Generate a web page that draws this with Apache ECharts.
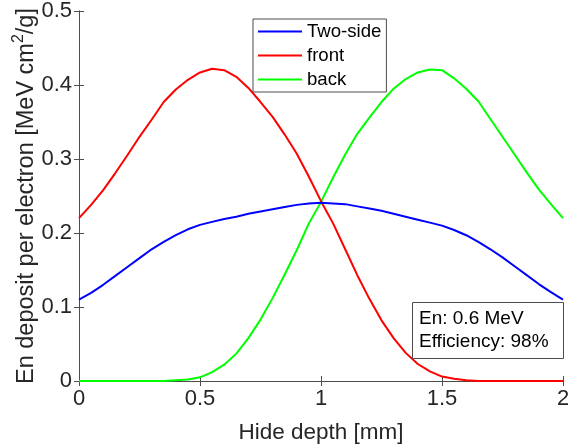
<!DOCTYPE html>
<html>
<head>
<meta charset="utf-8">
<script src="https://cdn.jsdelivr.net/npm/echarts@6/dist/echarts.min.js"></script>
<style>html,body{margin:0;padding:0;background:#fff;}#c{width:568px;height:447px;}</style>
</head>
<body>
<div id="c"></div>
<script>
var depth = [0,0.05,0.1,0.15,0.2,0.25,0.3,0.35,0.4,0.45,0.5,0.55,0.6,0.65,0.7,0.75,0.8,0.85,0.9,0.95,1.0,1.05,1.1,1.15,1.2,1.25,1.3,1.35,1.4,1.45,1.5,1.55,1.6,1.65,1.7,1.75,1.8,1.85,1.9,1.95,2.0];
var twoSide = [0.110,0.119,0.130,0.142,0.154,0.166,0.178,0.188,0.197,0.205,0.211,0.215,0.219,0.222,0.226,0.229,0.232,0.235,0.238,0.240,0.241,0.240,0.239,0.236,0.233,0.230,0.226,0.222,0.218,0.214,0.210,0.204,0.197,0.188,0.178,0.167,0.155,0.143,0.131,0.120,0.110];
var front = [0.220,0.238,0.258,0.281,0.305,0.330,0.353,0.377,0.394,0.407,0.417,0.422,0.420,0.411,0.396,0.377,0.357,0.333,0.307,0.276,0.243,0.213,0.178,0.143,0.111,0.082,0.058,0.038,0.023,0.013,0.006,0.003,0.001,0,0,0,0,0,0,0,0];
var back = [0,0,0,0,0,0,0,0,0.001,0.002,0.005,0.012,0.022,0.037,0.058,0.083,0.112,0.144,0.177,0.213,0.242,0.275,0.306,0.334,0.356,0.377,0.395,0.408,0.417,0.421,0.420,0.409,0.395,0.378,0.354,0.330,0.306,0.282,0.259,0.239,0.220];
var xTicks = [0,0.5,1,1.5,2];
var yTicks = [0,0.1,0.2,0.3,0.4,0.5];
var infoLines = ['En: 0.6 MeV','Efficiency: 98%'];

function pairs(ys){ return depth.map(function(x,i){ return [x, ys[i]]; }); }

var font = 'Liberation Sans, Arial, sans-serif';
var axisColor = '#4d4d4d';
var textColor = '#262626';

var chart = echarts.init(document.getElementById('c'), null, {renderer:'canvas'});
var common = {
  type:'value',
  axisLine:{show:true, lineStyle:{color:axisColor, width:1}},
  axisTick:{show:true, inside:true, length:5, lineStyle:{color:axisColor}},
  splitLine:{show:false}
};
chart.setOption({
  animation:false,
  backgroundColor:'#fff',
  grid:{left:79, right:5, top:11, bottom:66, containLabel:false, outerBoundsMode:'none'},
  xAxis:[
    Object.assign({}, common, {
      position:'bottom', min:xTicks[0], max:xTicks[xTicks.length-1], interval:0.5,
      name:'Hide depth [mm]', nameLocation:'middle', nameGap:40, nameMoveOverlap:false,
      nameTextStyle:{fontFamily:font, fontSize:22.5, color:textColor},
      axisLabel:{fontFamily:font, fontSize:22, color:textColor, margin:7}
    }),
    Object.assign({}, common, {
      position:'top', min:xTicks[0], max:xTicks[xTicks.length-1], interval:0.5,
      axisLabel:{show:false}
    })
  ],
  yAxis:[
    Object.assign({}, common, {
      position:'left', min:yTicks[0], max:yTicks[yTicks.length-1], interval:0.1,
      name:'{a|En deposit per electron [MeV cm}{s|2}{a|/g]}', nameLocation:'middle', nameGap:40, nameMoveOverlap:false,
      nameTextStyle:{fontFamily:font, fontSize:23.5, color:textColor,
        rich:{a:{fontFamily:font, fontSize:23.5, color:textColor, verticalAlign:'bottom'},
              s:{fontFamily:font, fontSize:16, color:textColor, verticalAlign:'top', padding:[0,0,12,0]}}},
      axisLabel:{fontFamily:font, fontSize:22, color:textColor, margin:7}
    }),
    Object.assign({}, common, {
      position:'right', min:yTicks[0], max:yTicks[yTicks.length-1], interval:0.1,
      axisLabel:{show:false}
    })
  ],
  legend:{
    orient:'vertical', left:253, top:19,
    icon:'rect', itemWidth:44, itemHeight:2, itemGap:5,
    padding:[3,5,3,5],
    backgroundColor:'#fff', borderColor:'#4d4d4d', borderWidth:1,
    textStyle:{fontFamily:font, fontSize:18.6, color:'#000', lineHeight:19},
    data:['Two-side','front','back']
  },
  series:[
    {name:'Two-side', type:'line', data:pairs(twoSide), symbol:'none', lineStyle:{color:'#0000ff', width:2}, itemStyle:{color:'#0000ff'}, z:3},
    {name:'front', type:'line', data:pairs(front), symbol:'none', lineStyle:{color:'#ff0000', width:2}, itemStyle:{color:'#ff0000'}, z:2},
    {name:'back', type:'line', data:pairs(back), symbol:'none', lineStyle:{color:'#00ff00', width:2}, itemStyle:{color:'#00ff00'}, z:1}
  ],
  graphic:[
    {type:'rect', left:412, top:302, z:100, shape:{width:151, height:56}, style:{fill:'#fff', stroke:'#4d4d4d', lineWidth:1}},
    {type:'text', left:419, top:309, z:101, style:{text:infoLines[0], fontFamily:font, fontSize:19, fill:'#000'}},
    {type:'text', left:419, top:332, z:101, style:{text:infoLines[1], fontFamily:font, fontSize:19, fill:'#000'}}
  ]
});
</script>
</body>
</html>
